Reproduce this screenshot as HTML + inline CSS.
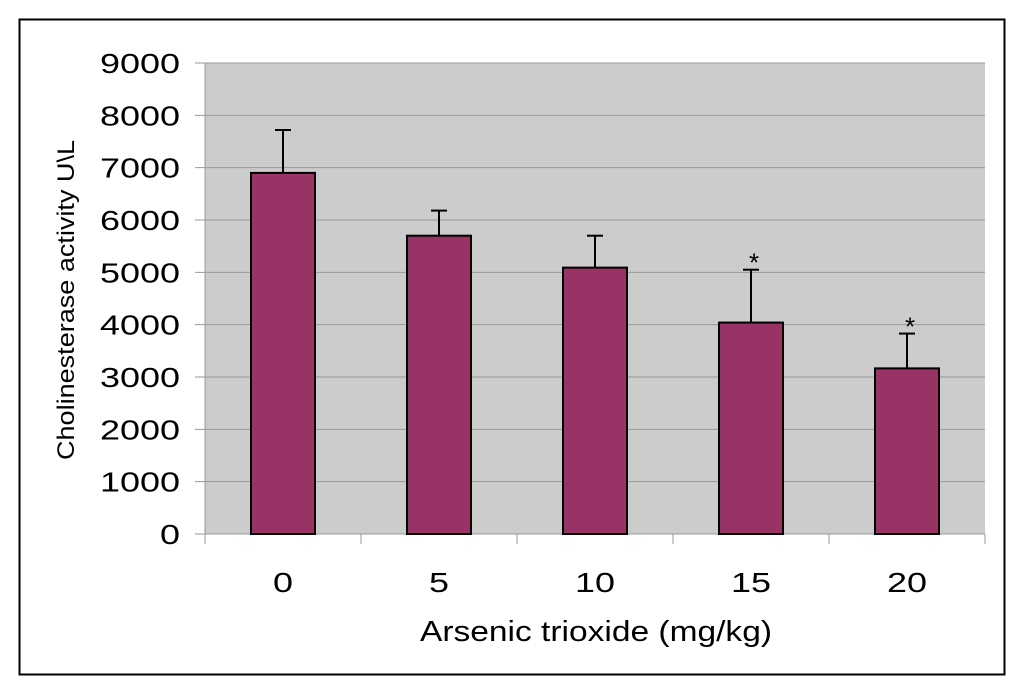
<!DOCTYPE html>
<html><head><meta charset="utf-8"><style>
body{margin:0;background:#fff;width:1024px;height:694px;overflow:hidden;font-family:"Liberation Sans",sans-serif;}
</style></head><body>
<svg id="chart" width="1024" height="694" xmlns="http://www.w3.org/2000/svg">
<rect x="19.5" y="19.5" width="985" height="655" fill="#fff" stroke="#000" stroke-width="2"/>
<g id="g"></g>
</svg>
<script>
const categories=["0","5","10","15","20"];
const means=[6900,5700,5090,4040,3165];
const errors=[820,480,610,1010,665];
const significant=[false,false,false,true,true];
const yTicks=[0,1000,2000,3000,4000,5000,6000,7000,8000,9000];
const L=205,R=985,T=63,B=534,YMAX=9000;
const y=v=>B-(v/YMAX)*(B-T);
const bw=(R-L)/categories.length;
const xc=i=>L+bw*(i+0.5);
const g=document.getElementById('g');
const NS="http://www.w3.org/2000/svg";
function mk(t,a,txt){const e=document.createElementNS(NS,t);for(const k in a)e.setAttribute(k,a[k]);if(txt!=null)e.textContent=txt;g.appendChild(e);return e;}
let e=mk('rect',{x:L,y:T,width:R-L,height:B-T,fill:'#cccccc'});


yTicks.forEach(v=>{
 let l=mk('line',{x1:195,x2:R,y1:y(v),y2:y(v),stroke:'#999',"stroke-width":1});
 
 
 const s=String(v);
 let t=mk('text',{x:180,y:y(v)+10,"text-anchor":"end","font-size":28,fill:'#000',textLength:s.length*20,lengthAdjust:'spacingAndGlyphs'},s);
 
 
});
let ax=mk('line',{x1:L,x2:L,y1:T,y2:B,stroke:'#999'});


for(let i=0;i<=categories.length;i++){
 let t=mk('line',{x1:L+bw*i,x2:L+bw*i,y1:B,y2:B+10,stroke:'#999'});
 
 
}
categories.forEach((c,i)=>{
 const x=xc(i),w=64;
 let el=mk('line',{x1:x,x2:x,y1:y(means[i]+errors[i]),y2:y(means[i]),stroke:'#000',"stroke-width":2});
 
 
 let cap=mk('line',{x1:x-8,x2:x+8,y1:y(means[i]+errors[i]),y2:y(means[i]+errors[i]),stroke:'#000',"stroke-width":2});
 
 
 let b=mk('rect',{x:x-w/2,y:y(means[i]),width:w,height:B-y(means[i]),fill:'#993366',stroke:'#000',"stroke-width":2});
 
 
 if(significant[i]){
  let s=mk('text',{x:x+3,y:y(means[i]+errors[i])+2,"text-anchor":"middle","font-size":26},'*');
  
  
 }
 let t=mk('text',{x:x,y:592,"text-anchor":"middle","font-size":28,textLength:c.length*20,lengthAdjust:'spacingAndGlyphs'},c);
 
 
});
let xt=mk('text',{x:596,y:641,"text-anchor":"middle","font-size":29,textLength:352,lengthAdjust:'spacingAndGlyphs'},'Arsenic trioxide (mg/kg)');


let yt=mk('text',{x:0,y:0,"text-anchor":"middle","font-size":24,textLength:320,lengthAdjust:'spacingAndGlyphs',transform:'translate(74,300) rotate(-90)'},'Cholinesterase activity U\\L');


</script>
</body></html>
